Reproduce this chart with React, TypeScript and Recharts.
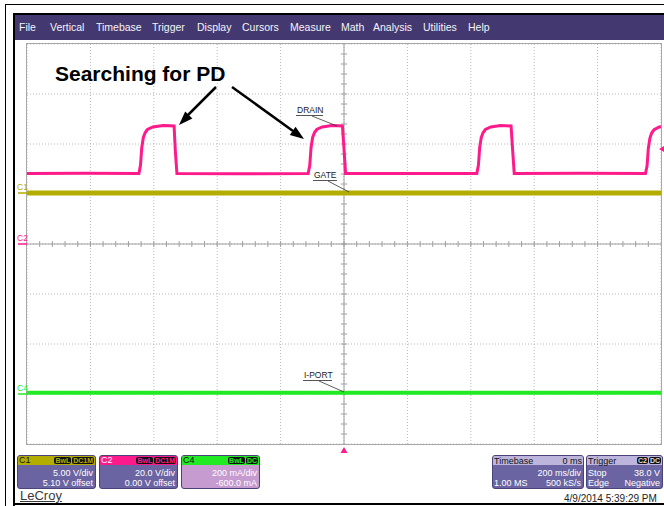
import React from "react";
import { ComposedChart, Line, XAxis, YAxis, CartesianGrid, ReferenceLine } from "recharts";

const FONT = "'Liberation Sans', Arial, sans-serif";

const menuItems = ["File", "Vertical", "Timebase", "Trigger", "Display", "Cursors", "Measure", "Math", "Analysis", "Utilities", "Help"];
const menuLeft = [19, 50, 96, 152, 197, 242, 290, 341, 373, 423, 468];

// 200 ms/div, 10 divisions, trigger at centre
const timeTicks = [-1000, -800, -600, -400, -200, 0, 200, 400, 600, 800, 1000];
// C2 20 V/div, 8 divisions
const c2Ticks = [-80, -60, -40, -20, 0, 20, 40, 60, 80];

// C2 DRAIN (V)
const drainTime = [-1000, -820, -647, -642, -638, -633, -627, -620, -603, -571, -536, -532, -527, -330, -113, -108, -104, -99, -93, -86, -69, -38, -5, 0, 5, 200, 419, 424, 428, 433, 439, 446, 463, 494, 527, 532, 537, 750, 951, 956, 960, 965, 971, 978, 995, 1000];
const drainVolts = [28.2, 28.3, 28.2, 31.5, 38.5, 42.6, 44.6, 45.8, 46.8, 47.4, 47.2, 37.0, 28.2, 28.1, 28.2, 31.5, 38.5, 42.6, 44.6, 45.8, 46.8, 47.4, 47.2, 38.0, 28.2, 28.2, 28.2, 31.5, 38.5, 42.6, 44.6, 45.8, 46.8, 47.4, 47.2, 37.5, 28.2, 28.3, 28.2, 31.2, 38.2, 42.4, 44.5, 45.7, 46.8, 47.0];

// C1 GATE (V)
const gateTime = [-1000, 0, 1000];
const gateVolts = [0, 0, 0];

// C4 I-PORT (mA)
const iportTime = [-1000, 0, 1000];
const iportMilliamps = [5, 5, 5];

const drain = drainTime.map((t, i) => ({ t, v: drainVolts[i] }));
const gate = gateTime.map((t, i) => ({ t, v: gateVolts[i] }));
const iport = iportTime.map((t, i) => ({ t, v: iportMilliamps[i] }));

// minor graticule ticks on the centre lines
const minorTime = Array.from({ length: 49 }, (_, i) => -960 + i * 40);
const minorVolt = Array.from({ length: 39 }, (_, i) => -76 + i * 4);

const PINK = "#ff1a8c";
const OLIVE = "#b3ad00";
const GREEN = "#22ea22";
const GRID = "#b8b8b8";

function Tag({ text, color }: { text: string; color: string }) {
  return (
    <span style={{ background: "#111", color, fontSize: 7, lineHeight: "7px", height: 7, padding: "0 1px", borderRadius: 2, fontWeight: "bold" }}>
      {text}
    </span>
  );
}

function ChannelBox(props: { left: number; head: string; headText: string; label: string; tags: string[]; body: string; lines: string[] }) {
  const { left, head, headText, label, tags, body, lines } = props;
  return (
    <div style={{ position: "absolute", left, top: 455, width: 79, height: 34, borderRadius: 3, overflow: "hidden", border: "1px solid #4b4479", boxSizing: "border-box", background: body }}>
      <div style={{ height: 9, background: head, position: "relative" }}>
        <span style={{ position: "absolute", left: 1, top: -1, fontSize: 9, color: headText }}>{label}</span>
        <div style={{ position: "absolute", right: 1, top: 1, display: "flex", gap: 1 }}>
          {tags.map((t) => <Tag key={t} text={t} color={head} />)}
        </div>
      </div>
      <div style={{ textAlign: "right", paddingRight: 2, color: "#fff", fontSize: 9, lineHeight: "10px", marginTop: 3 }}>
        {lines.map((l) => <div key={l}>{l}</div>)}
      </div>
    </div>
  );
}

function InfoBox(props: { left: number; width: number; title: string; titleRight: React.ReactNode; rows: [string, string][] }) {
  const { left, width, title, titleRight, rows } = props;
  return (
    <div style={{ position: "absolute", left, top: 455, width, height: 34, borderRadius: 3, overflow: "hidden", border: "1px solid #4b4479", boxSizing: "border-box", background: "#6b64a2" }}>
      <div style={{ height: 9, background: "#bdb5dc", display: "flex", justifyContent: "space-between", alignItems: "center", padding: "0 1px", fontSize: 9, color: "#111" }}>
        <span>{title}</span>
        <span style={{ display: "flex", gap: 1 }}>{titleRight}</span>
      </div>
      <div style={{ color: "#fff", fontSize: 9, lineHeight: "10px", marginTop: 3, padding: "0 2px 0 1px" }}>
        {rows.map(([a, b], i) => (
          <div key={i} style={{ display: "flex", justifyContent: "space-between" }}>
            <span>{a}</span>
            <span>{b}</span>
          </div>
        ))}
      </div>
    </div>
  );
}

function Block({ l, t, w, h, c }: { l: number; t: number; w: number; h: number; c: string }) {
  return <div style={{ position: "absolute", left: l, top: t, width: w, height: h, background: c }} />;
}

export default function App() {
  return (
    <div style={{ position: "absolute", left: 0, top: 0, width: 664, height: 506, background: "#fff", overflow: "hidden", fontFamily: FONT }}>
      {/* frame */}
      <Block l={5} t={4} w={659} h={1} c="#000" />
      <Block l={5} t={4} w={1} h={502} c="#000" />
      <Block l={13} t={13} w={651} h={2} c="#000" />
      <Block l={13} t={13} w={2} h={493} c="#000" />
      <Block l={13} t={503} w={651} h={2} c="#000" />
      <Block l={15} t={15} w={649} h={25} c="#43386f" />

      {menuItems.map((m, i) => (
        <div key={m} style={{ position: "absolute", left: menuLeft[i], top: 21, fontSize: 10.5, lineHeight: "12px", color: "#f4f4f8" }}>{m}</div>
      ))}

      {/* graticule + traces */}
      <div style={{ position: "absolute", left: 26, top: 43, width: 634, height: 400, border: "1px solid #a8a8a8" }}>
        <ComposedChart width={634} height={400} margin={{ top: 0, right: 0, bottom: 0, left: 0 }}>
          <XAxis type="number" dataKey="t" domain={[-1000, 1000]} ticks={timeTicks} allowDataOverflow hide />
          <YAxis yAxisId="c1" type="number" domain={[-25.1, 14.9]} allowDataOverflow hide />
          <YAxis yAxisId="c2" type="number" domain={[-80, 80]} ticks={c2Ticks} allowDataOverflow hide />
          <YAxis yAxisId="c4" type="number" domain={[-200, 1400]} allowDataOverflow hide />
          <CartesianGrid yAxisId="c2" stroke={GRID} strokeDasharray="1 2" />
          <ReferenceLine x={0} yAxisId="c2" stroke="#a0a0a0" />
          <ReferenceLine y={0} yAxisId="c2" stroke="#a0a0a0" />
          {minorTime.map((t) => (
            <ReferenceLine key={"mt" + t} yAxisId="c2" segment={[{ x: t, y: -1.2 }, { x: t, y: 1.2 }]} stroke="#a0a0a0" />
          ))}
          {minorVolt.map((v) => (
            <ReferenceLine key={"mv" + v} yAxisId="c2" segment={[{ x: -10, y: v }, { x: 10, y: v }]} stroke="#a0a0a0" />
          ))}
          <Line yAxisId="c1" data={gate} dataKey="v" type="linear" stroke={OLIVE} strokeWidth={5} dot={false} isAnimationActive={false} />
          <Line yAxisId="c4" data={iport} dataKey="v" type="linear" stroke={GREEN} strokeWidth={4} dot={false} isAnimationActive={false} />
          <Line yAxisId="c2" data={drain} dataKey="v" type="linear" stroke={PINK} strokeWidth={3} dot={false} isAnimationActive={false} />
        </ComposedChart>
      </div>

      {/* annotations */}
      <svg width={664} height={506} style={{ position: "absolute", left: 0, top: 0, pointerEvents: "none" }}>
        <text x={55} y={81} fontSize={21} fontWeight="bold" fill="#000" fontFamily={FONT}>Searching for PD</text>
        <line x1={216} y1={87} x2={187} y2={116} stroke="#000" strokeWidth={2.5} />
        <polygon points="179,125 192.4,118.4 185.2,111.4" fill="#000" />
        <line x1={232} y1={87} x2={293} y2={131} stroke="#000" strokeWidth={2.5} />
        <polygon points="304,139 289.8,134.9 295.6,126.8" fill="#000" />

        <text x={297} y={113} fontSize={8.5} fill="#222" fontFamily={FONT}>DRAIN</text>
        <line x1={296} y1={115.5} x2={323} y2={115.5} stroke="#555" strokeWidth={1} />
        <line x1={312} y1={116} x2={337} y2={126} stroke="#333" strokeWidth={0.8} />

        <text x={314} y={178} fontSize={8.5} fill="#222" fontFamily={FONT}>GATE</text>
        <line x1={313} y1={180.5} x2={337} y2={180.5} stroke="#555" strokeWidth={1} />
        <line x1={328} y1={181} x2={349} y2={192} stroke="#333" strokeWidth={0.8} />

        <text x={304} y={378} fontSize={8.5} fill="#222" fontFamily={FONT}>I-PORT</text>
        <line x1={303} y1={380.5} x2={332} y2={380.5} stroke="#555" strokeWidth={1} />
        <line x1={319} y1={381} x2={344} y2={392} stroke="#333" strokeWidth={0.8} />

        {/* channel ground markers */}
        <text x={17} y={190} fontSize={8.5} fill={OLIVE} fontFamily={FONT}>C1</text>
        <line x1={18} y1={193} x2={27} y2={193} stroke={OLIVE} strokeWidth={1.5} />
        <text x={17} y={241} fontSize={8.5} fill={PINK} fontFamily={FONT}>C2</text>
        <line x1={18} y1={244} x2={27} y2={244} stroke={PINK} strokeWidth={1.5} />
        <text x={17} y={391} fontSize={8.5} fill={GREEN} fontFamily={FONT}>C4</text>
        <line x1={18} y1={394} x2={27} y2={394} stroke={GREEN} strokeWidth={1.5} />

        {/* trigger level and position */}
        <polygon points="659,149 664,146 664,152" fill={PINK} />
        <polygon points="344,447 340.5,453 347.5,453" fill={PINK} />
      </svg>

      {/* bottom info panel */}
      <ChannelBox left={17} head={OLIVE} headText="#111" label="C1" tags={["BwL", "DC1M"]} body="#6b64a2" lines={["5.00 V/div", "5.10 V offset"]} />
      <ChannelBox left={99} head={PINK} headText="#fff" label="C2" tags={["BwL", "DC1M"]} body="#6b64a2" lines={["20.0 V/div", "0.00 V offset"]} />
      <ChannelBox left={181} head={GREEN} headText="#111" label="C4" tags={["BwL", "DC"]} body="#c59bd0" lines={["200 mA/div", "-600.0 mA"]} />

      <InfoBox left={492} width={92} title="Timebase" titleRight={<span>0 ms</span>} rows={[["", "200 ms/div"], ["1.00 MS", "500 kS/s"]]} />
      <InfoBox left={586} width={77} title="Trigger" titleRight={<><Tag text="C2" color="#ddd" /><Tag text="DC" color="#ddd" /></>} rows={[["Stop", "38.0 V"], ["Edge", "Negative"]]} />

      <div style={{ position: "absolute", left: 20, top: 489, fontSize: 13, lineHeight: "14px", color: "#3a3a3a", textDecoration: "underline" }}>LeCroy</div>
      <div style={{ position: "absolute", left: 564, top: 493, fontSize: 10, lineHeight: "11px", color: "#222" }}>4/9/2014 5:39:29 PM</div>
    </div>
  );
}
